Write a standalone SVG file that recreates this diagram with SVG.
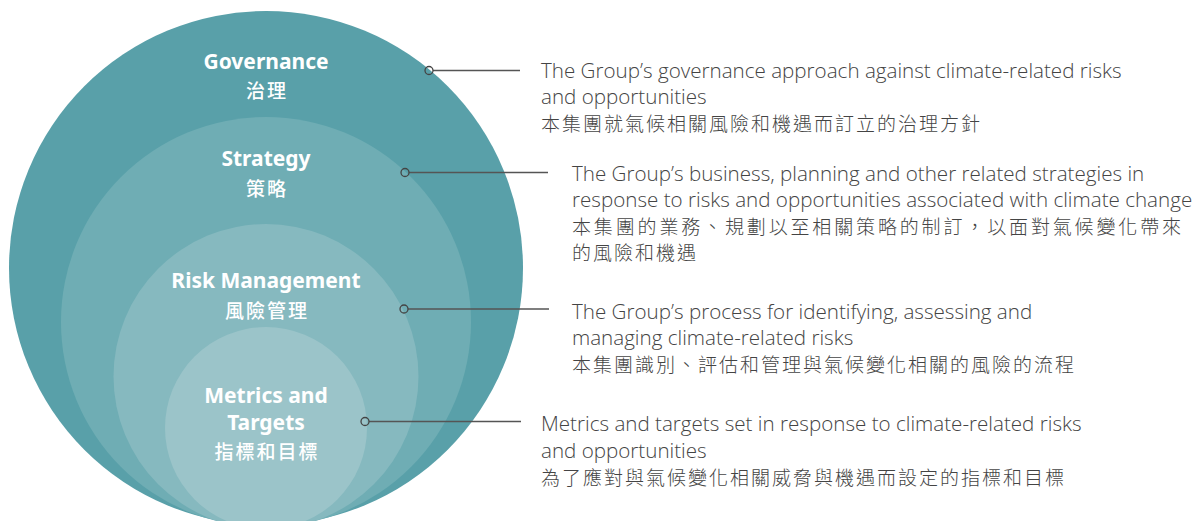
<svg xmlns="http://www.w3.org/2000/svg" width="1197" height="521" viewBox="0 0 1197 521">
<style>
.lbl{font-family:"Noto Sans","Noto Sans CJK TC",sans-serif;font-weight:700;font-size:21px;fill:#ffffff;text-anchor:middle}
.lblc{font-family:"Noto Sans CJK TC",sans-serif;font-weight:500;font-size:19px;fill:#ffffff;text-anchor:middle;letter-spacing:2px}
.desc{font-family:"Open Sans","Noto Sans",sans-serif;font-weight:300;font-size:20.6px;fill:#444444}
.descc{font-family:"Noto Sans CJK TC",sans-serif;font-weight:300;font-size:19px;fill:#444444;letter-spacing:2px}
.conn line{stroke:#555555;stroke-width:1.3}
.conn circle{fill:none;stroke:#444444;stroke-width:1.3}
</style>
<rect width="1197" height="521" fill="#ffffff"/>
<g id="governance">
<circle cx="266" cy="268" r="257" fill="#59A0A9"/>
<text class="lbl" x="266" y="69">Governance</text>
<text class="lblc" x="267" y="98">治理</text>
</g>
<g id="strategy">
<circle cx="266" cy="322" r="205" fill="#6FADB4"/>
<text class="lbl" x="266" y="166">Strategy</text>
<text class="lblc" x="267" y="196">策略</text>
</g>
<g id="risk-management">
<circle cx="266" cy="376.5" r="152.5" fill="#86B9BF"/>
<text class="lbl" x="266" y="288">Risk Management</text>
<text class="lblc" x="267" y="318">風險管理</text>
</g>
<g id="metrics-targets">
<circle cx="266" cy="428" r="101" fill="#9BC4C9"/>
<text class="lbl" x="266" y="403">Metrics and</text>
<text class="lbl" x="266" y="430">Targets</text>
<text class="lblc" x="267" y="459">指標和目標</text>
</g>
<g id="connectors" class="conn">
<line x1="433" y1="70.5" x2="520" y2="70.5"/>
<circle cx="429" cy="70.5" r="4"/>
<line x1="409" y1="172.5" x2="548" y2="172.5"/>
<circle cx="405" cy="172.5" r="4"/>
<line x1="408" y1="309" x2="549" y2="309"/>
<circle cx="404" cy="309" r="4"/>
<line x1="369" y1="421.5" x2="521" y2="421.5"/>
<circle cx="365" cy="421.5" r="4"/>
</g>
<g id="desc-governance">
<text class="desc" x="541" y="78">The Group’s governance approach against climate-related risks</text>
<text class="desc" x="541" y="104">and opportunities</text>
<text class="descc" x="541" y="131">本集團就氣候相關風險和機遇而訂立的治理方針</text>
</g>
<g id="desc-strategy">
<text class="desc" x="572" y="181">The Group’s business, planning and other related strategies in</text>
<text class="desc" x="572" y="207">response to risks and opportunities associated with climate change</text>
<text class="descc" x="572" y="234" textLength="611">本集團的業務、規劃以至相關策略的制訂，以面對氣候變化帶來</text>
<text class="descc" x="572" y="260">的風險和機遇</text>
</g>
<g id="desc-risk">
<text class="desc" x="572" y="319">The Group’s process for identifying, assessing and</text>
<text class="desc" x="572" y="345">managing climate-related risks</text>
<text class="descc" x="572" y="372">本集團識別、評估和管理與氣候變化相關的風險的流程</text>
</g>
<g id="desc-metrics">
<text class="desc" x="541" y="431">Metrics and targets set in response to climate-related risks</text>
<text class="desc" x="541" y="458">and opportunities</text>
<text class="descc" x="541" y="485">為了應對與氣候變化相關威脅與機遇而設定的指標和目標</text>
</g>
</svg>
